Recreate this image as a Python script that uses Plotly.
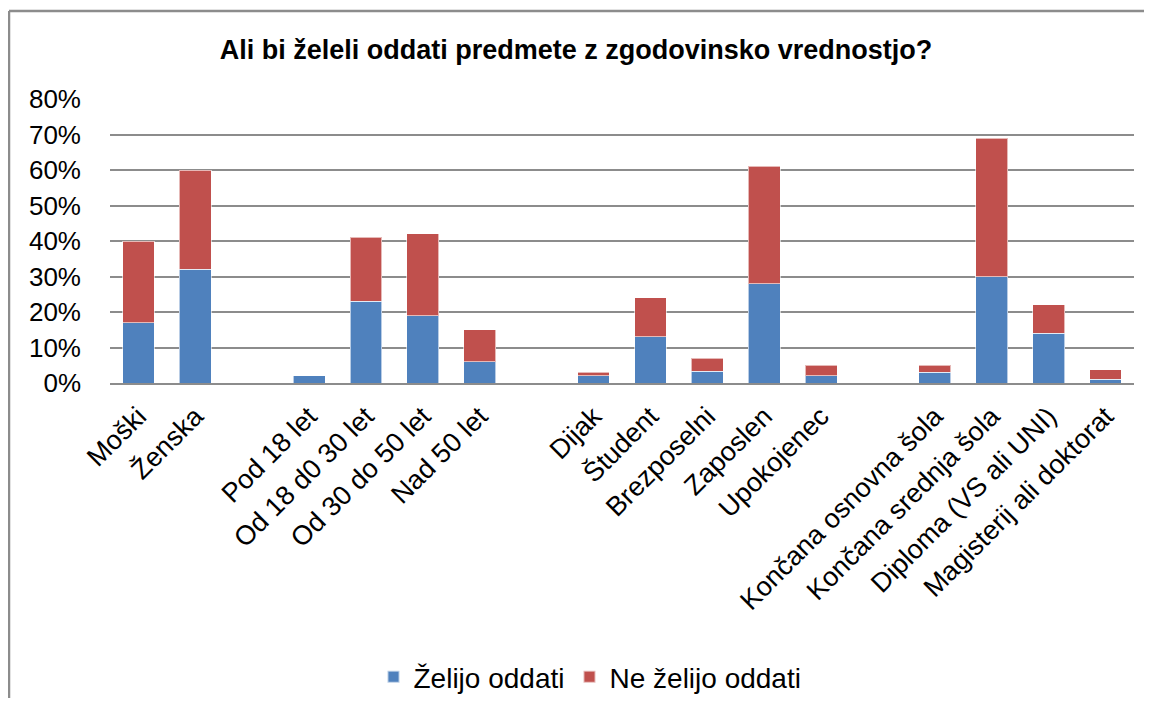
import plotly.graph_objects as go

categories = ["Moški", "Ženska", " ", "Pod 18 let", "Od 18 d0 30 let", "Od 30 do 50 let",
              "Nad 50 let", "  ", "Dijak", "Študent", "Brezposelni", "Zaposlen", "Upokojenec",
              "   ", "Končana osnovna šola", "Končana srednja šola", "Diploma (VS ali UNI)",
              "Magisterij ali doktorat"]
zelijo_oddati = [17, 32, None, 2, 23, 19, 6, None, 2, 13, 3.3, 28, 2, None, 3, 30, 14, 1]
ne_zelijo_oddati = [23, 28, None, 0, 18, 23, 9, None, 1, 11, 3.7, 33, 3, None, 2, 39, 8, 2.7]
y_ticks = [0, 10, 20, 30, 40, 50, 60, 70, 80]
y_tick_labels = ["0%", "10%", "20%", "30%", "40%", "50%", "60%", "70%", "80%"]

# page has an 8px body margin, so figure is sized to fit the 1152x706 window without scrolling
W, H = 1136, 690
ML, MR, MT, MB = 102, 10, 91, 315
FONT = "Liberation Sans, Arial, sans-serif"

fig = go.Figure()
fig.add_trace(go.Bar(x=categories, y=zelijo_oddati, name="Želijo oddati",
                     marker=dict(color="#4F81BD", line=dict(color="rgba(255,255,255,0.6)", width=1))))
fig.add_trace(go.Bar(x=categories, y=ne_zelijo_oddati, name="Ne želijo oddati",
                     marker=dict(color="#C0504D", line=dict(color="rgba(255,255,255,0.6)", width=1))))

pw = W - ML - MR
ph = H - MT - MB
bx = (1 - ML) / pw
by = (H - 3 - MB) / ph
fig.add_shape(type="line", xref="paper", yref="paper", x0=bx, x1=bx, y0=by, y1=(0 - MB) / ph,
              line=dict(color="#8C8C8C", width=2.5))
fig.add_shape(type="line", xref="paper", yref="paper", x0=bx, x1=(W - ML) / pw, y0=by, y1=by,
              line=dict(color="#8C8C8C", width=2.5))

fig.update_layout(
    width=W, height=H,
    barmode="stack", bargap=0.44,
    margin=dict(l=ML, r=MR, t=MT, b=MB, autoexpand=False),
    paper_bgcolor="white", plot_bgcolor="white",
    font=dict(family=FONT, color="black"),
    title=dict(text="<b>Ali bi želeli oddati predmete z zgodovinsko vrednostjo?</b>",
               x=568 / W, xanchor="center", y=1 - 42 / H, yanchor="middle",
               font=dict(size=27, family=FONT, color="black")),
    legend=dict(orientation="h", x=(582 - ML) / pw, xanchor="center",
                y=(375 - 669) / ph, yanchor="middle",
                font=dict(size=28, family=FONT), traceorder="normal",
                itemsizing="constant", itemwidth=30),
    showlegend=True,
)
fig.update_xaxes(type="category", categoryorder="array", categoryarray=categories,
                 tickangle=-45, tickfont=dict(size=27, family=FONT),
                 showgrid=False, showline=True, linecolor="#8C8C8C", linewidth=1.5,
                 ticks="", zeroline=False, ticklabelstandoff=5)
fig.update_yaxes(range=[0, 80], tickmode="array", tickvals=y_ticks, ticktext=y_tick_labels,
                 tickfont=dict(size=26, family=FONT),
                 showgrid=True, gridcolor="#8C8C8C", gridwidth=1.5,
                 showline=False, zeroline=False, ticks="", ticklabelstandoff=28)

fig.write_html("out.html", config={"displayModeBar": False})
